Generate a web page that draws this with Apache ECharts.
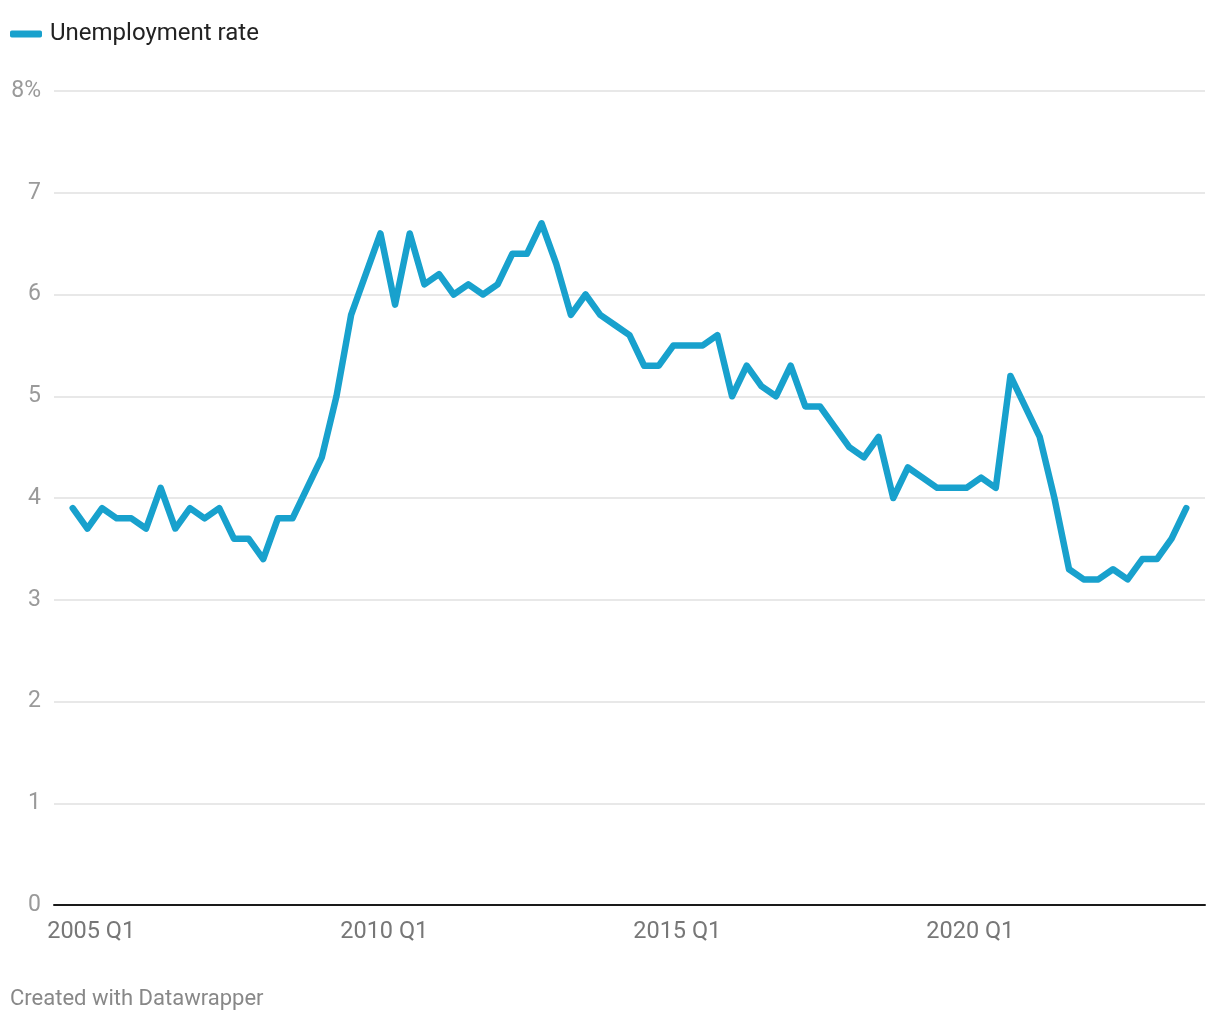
<!DOCTYPE html>
<html>
<head>
<meta charset="utf-8">
<script src="https://cdn.jsdelivr.net/npm/echarts@6/dist/echarts.min.js"></script>
<style>
html,body{margin:0;padding:0;background:#fff;}
#chart{width:1220px;height:1020px;}
</style>
</head>
<body>
<div id="chart"></div>
<script>
// Quarterly categories 2004 Q3 .. 2023 Q3
var categories = [];
(function(){
  var y = 2004, q = 3;
  for (var i = 0; i < 77; i++) {
    categories.push(y + ' Q' + q);
    q++; if (q > 4) { q = 1; y++; }
  }
})();

var unemploymentRate = [
  3.9, 3.7, 3.9, 3.8, 3.8, 3.7, 4.1, 3.7, 3.9, 3.8,
  3.9, 3.6, 3.6, 3.4, 3.8, 3.8, 4.1, 4.4, 5.0, 5.8,
  6.2, 6.6, 5.9, 6.6, 6.1, 6.2, 6.0, 6.1, 6.0, 6.1,
  6.4, 6.4, 6.7, 6.3, 5.8, 6.0, 5.8, 5.7, 5.6, 5.3,
  5.3, 5.5, 5.5, 5.5, 5.6, 5.0, 5.3, 5.1, 5.0, 5.3,
  4.9, 4.9, 4.7, 4.5, 4.4, 4.6, 4.0, 4.3, 4.2, 4.1,
  4.1, 4.1, 4.2, 4.1, 5.2, 4.9, 4.6, 4.0, 3.3, 3.2,
  3.2, 3.3, 3.2, 3.4, 3.4, 3.6, 3.9
];

var xTickLabels = ['2005 Q1', '2010 Q1', '2015 Q1', '2020 Q1'];
var yTickValues = [0, 1, 2, 3, 4, 5, 6, 7, 8];

var LABEL_SHIFT = 0.74; // labels sit slightly before the quarter's data point
var xLabelPos = xTickLabels.map(function (l) { return categories.indexOf(l) - LABEL_SHIFT; });

var seriesData = unemploymentRate.map(function (v, i) { return [i, v]; });

var chart = echarts.init(document.getElementById('chart'));
var FONT = 'Roboto, "Noto Sans", sans-serif';

chart.setOption({
  backgroundColor: '#ffffff',
  animation: false,
  textStyle: { fontFamily: FONT },
  title: {
    text: 'Created with Datawrapper',
    left: 10,
    top: 988,
    padding: 0,
    textStyle: { fontFamily: FONT, fontSize: 22, fontWeight: 'normal', color: '#888888' }
  },
  legend: {
    left: 10,
    top: 22,
    padding: 0,
    data: ['Unemployment rate'],
    icon: 'roundRect',
    itemWidth: 32,
    itemHeight: 7,
    itemGap: 20,
    selectedMode: false,
    textStyle: { fontFamily: FONT, fontSize: 24, color: '#222222', padding: [0, 0, 0, 3] }
  },
  grid: { left: 54, right: 15, top: 91, bottom: 115, containLabel: false },
  xAxis: {
    type: 'value',
    min: -1.28,
    max: categories.length - 1 + 1.28,
    splitLine: { show: false },
    axisTick: { show: false },
    axisLine: { show: true, onZero: false, lineStyle: { color: '#1a1a1a', width: 2 } },
    axisLabel: {
      customValues: xLabelPos,
      showMinLabel: true,
      showMaxLabel: true,
      margin: 15,
      fontSize: 23.5,
      color: '#777777',
      fontFamily: FONT,
      formatter: function (v) {
        var idx = Math.round(v + LABEL_SHIFT);
        return categories[idx] || '';
      }
    }
  },
  yAxis: {
    type: 'value',
    min: 0,
    max: 8,
    interval: 1,
    axisLine: { show: false },
    axisTick: { show: false },
    splitLine: { show: true, lineStyle: { color: '#e0e0e0', width: 1.5 } },
    axisLabel: {
      margin: 13,
      fontSize: 23,
      color: '#9a9a9a',
      fontFamily: FONT,
      formatter: function (v) {
        if (yTickValues.indexOf(v) < 0) return '';
        return v === 8 ? v + '%' : String(v);
      }
    }
  },
  series: [{
    name: 'Unemployment rate',
    type: 'line',
    data: seriesData,
    showSymbol: false,
    symbol: 'none',
    color: '#18a1cd',
    lineStyle: { color: '#18a1cd', width: 6.5, cap: 'round', join: 'round' },
    itemStyle: { color: '#18a1cd' },
    z: 5
  }]
});
</script>
</body>
</html>
